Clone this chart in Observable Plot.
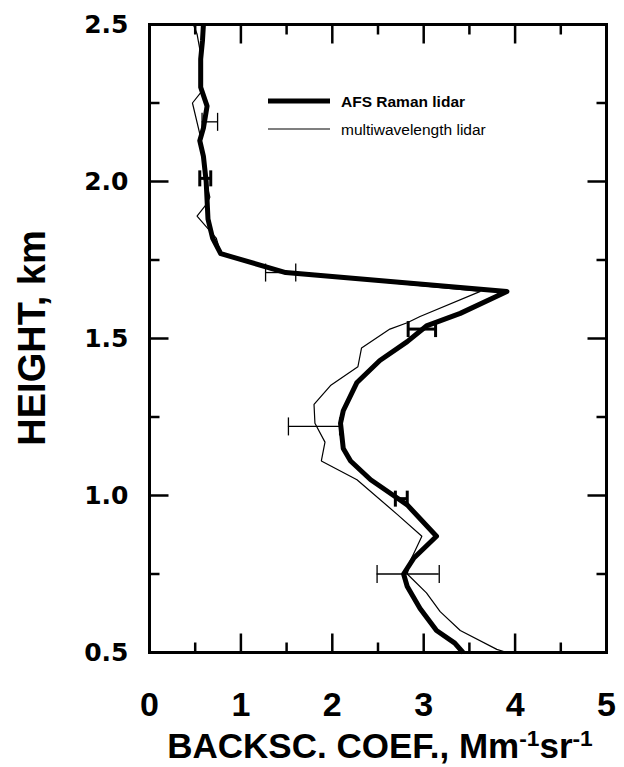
<!DOCTYPE html>
<html>
<head>
<meta charset="utf-8">
<script src="https://cdn.jsdelivr.net/npm/d3@7"></script>
<script src="https://cdn.jsdelivr.net/npm/@observablehq/plot@0.6"></script>
<style>
  html, body { margin: 0; padding: 0; background: #fff; }
  #chart svg { display: block; }
</style>
</head>
<body>
<div id="chart"></div>
<script>
// ---- data (height in km, backscatter coefficient in Mm^-1 sr^-1) ----
const afsHeight = [0.50,0.53,0.57,0.64,0.71,0.75,0.80,0.87,0.97,1.00,1.05,1.11,1.15,1.23,1.27,1.36,1.43,1.49,1.54,1.58,1.65,1.71,1.77,1.82,1.88,1.94,2.00,2.08,2.13,2.17,2.24,2.30,2.39,2.45,2.50];
const afsValue  = [3.43,3.34,3.14,2.96,2.82,2.78,2.89,3.14,2.82,2.67,2.42,2.20,2.12,2.09,2.12,2.27,2.52,2.82,3.03,3.40,3.91,1.49,0.78,0.69,0.64,0.63,0.62,0.59,0.55,0.59,0.63,0.56,0.56,0.58,0.59];

const mwHeight = [0.50,0.51,0.57,0.63,0.69,0.75,0.79,0.87,0.94,1.05,1.11,1.17,1.23,1.29,1.35,1.41,1.47,1.53,1.55,1.57,1.65,1.71,1.77,1.82,1.89,1.93,1.95,2.00,2.08,2.14,2.25,2.29,2.39,2.47,2.50];
const mwValue  = [3.91,3.80,3.40,3.18,3.03,2.82,2.85,2.98,2.71,2.27,1.88,1.92,1.81,1.80,1.98,2.28,2.32,2.63,2.82,2.96,3.62,1.49,0.78,0.73,0.52,0.63,0.66,0.62,0.59,0.56,0.47,0.58,0.57,0.52,0.48];

const afsErrHeight = [2.01, 1.53, 0.99];
const afsErrLow    = [0.55, 2.83, 2.69];
const afsErrHigh   = [0.67, 3.13, 2.82];

const mwErrHeight = [2.19, 1.71, 1.22, 0.75];
const mwErrLow    = [0.575, 1.27, 1.52, 2.49];
const mwErrHigh   = [0.745, 1.60, 2.08, 3.17];

const xTickLabels = [0, 1, 2, 3, 4, 5];
const yTickLabels = [0.5, 1.0, 1.5, 2.0, 2.5];
const xMajor = [1, 2, 3, 4];
const xMinor = [0.5, 1.5, 2.5, 3.5, 4.5];
const yMajor = [1.0, 1.5, 2.0];
const yMinor = [0.75, 1.25, 1.75, 2.25];

const seriesNames = ["AFS Raman lidar", "multiwavelength lidar"];
const xTitle = "BACKSC. COEF., Mm-1sr-1";
const yTitle = "HEIGHT, km";

// ---- build tables ----
const afs = afsHeight.map((h, i) => ({h, v: afsValue[i]}));
const mw = mwHeight.map((h, i) => ({h, v: mwValue[i]}));
const afsErr = afsErrHeight.map((h, i) => ({h, lo: afsErrLow[i], hi: afsErrHigh[i]}));
const mwErr = mwErrHeight.map((h, i) => ({h, lo: mwErrLow[i], hi: mwErrHigh[i]}));

// pixel-space tick / cap symbols
const seg = (dx, dy) => ({draw(ctx) { ctx.moveTo(0, 0); ctx.lineTo(dx, dy); }});
const cap = (half) => ({draw(ctx) { ctx.moveTo(0, -half); ctx.lineTo(0, half); }});

const SANS = "Liberation Sans, Arial, Helvetica, sans-serif";
const MAJ = 19, MIN = 10;

const tickMarks = (vals, axis, anchor, sym) => Plot.dot(vals, {
  [axis]: d => d, frameAnchor: anchor, symbol: sym,
  stroke: "#000", fill: "none", strokeWidth: 2.5
});

const chart = Plot.plot({
  width: 624,
  height: 767,
  marginTop: 24,
  marginBottom: 115,
  marginLeft: 149,
  marginRight: 18,
  x: {domain: [0, 5], axis: null},
  y: {domain: [0.5, 2.5], axis: null},
  style: {fontFamily: SANS, background: "#fff"},
  marks: [
    // error bars
    Plot.ruleY(mwErr, {y: "h", x1: "lo", x2: "hi", stroke: "#000", strokeWidth: 1.3}),
    Plot.dot(mwErr, {x: "lo", y: "h", symbol: cap(9), stroke: "#000", fill: "none", strokeWidth: 1.3}),
    Plot.dot(mwErr, {x: "hi", y: "h", symbol: cap(9), stroke: "#000", fill: "none", strokeWidth: 1.3}),
    Plot.ruleY(afsErr, {y: "h", x1: "lo", x2: "hi", stroke: "#000", strokeWidth: 3}),
    Plot.dot(afsErr, {x: "lo", y: "h", symbol: cap(8), stroke: "#000", fill: "none", strokeWidth: 3}),
    Plot.dot(afsErr, {x: "hi", y: "h", symbol: cap(8), stroke: "#000", fill: "none", strokeWidth: 3}),
    // profiles
    Plot.line(mw, {x: "v", y: "h", stroke: "#000", strokeWidth: 1.2, strokeLinejoin: "miter"}),
    Plot.line(afs, {x: "v", y: "h", stroke: "#000", strokeWidth: 5, strokeLinejoin: "round", strokeLinecap: "butt"}),
    // frame
    Plot.frame({stroke: "#000", strokeWidth: 3}),
    // inward ticks
    tickMarks(xMajor, "x", "bottom", seg(0, -MAJ)),
    tickMarks(xMinor, "x", "bottom", seg(0, -MIN)),
    tickMarks(xMajor, "x", "top", seg(0, MAJ)),
    tickMarks(xMinor, "x", "top", seg(0, MIN)),
    tickMarks(yMajor, "y", "left", seg(MAJ, 0)),
    tickMarks(yMinor, "y", "left", seg(MIN, 0)),
    tickMarks(yMajor, "y", "right", seg(-MAJ, 0)),
    tickMarks(yMinor, "y", "right", seg(-MIN, 0)),
    // tick labels
    Plot.text(xTickLabels, {x: d => d, frameAnchor: "bottom", lineAnchor: "middle", dy: 53, text: d => String(d),
      fontSize: 34, fontWeight: "bold", fontFamily: SANS, fill: "#000"}),
    Plot.text(yTickLabels, {y: d => d, frameAnchor: "left", lineAnchor: "middle", dx: -21, textAnchor: "end", text: d => d.toFixed(1),
      fontSize: 25, fontWeight: "bold", fontFamily: "DejaVu Sans", fill: "#000"}),
    // x axis title
    Plot.text([xTitle], {frameAnchor: "bottom", lineAnchor: "middle", dy: 94, dx: 2, text: d => d,
      fontSize: 35, fontWeight: "bold", fontFamily: SANS, fill: "#000"})
  ]
});

document.getElementById("chart").appendChild(chart);

const svg = d3.select(chart);

// superscripts in x title
svg.selectAll("text").filter(function() { return this.textContent === xTitle; })
  .each(function() {
    const t = d3.select(this);
    t.text(null);
    t.append("tspan").text("BACKSC. COEF., Mm");
    t.append("tspan").attr("dy", "-0.5em").attr("font-size", "0.65em").text("-1");
    t.append("tspan").attr("dy", "0.325em").text("sr");
    t.append("tspan").attr("dy", "-0.5em").attr("font-size", "0.65em").text("-1");
  });

// y axis title (rotated), centred on the plot frame
svg.append("text")
  .attr("transform", "translate(32,338) rotate(-90)")
  .attr("text-anchor", "middle")
  .attr("dy", "0.35em")
  .attr("font-family", SANS)
  .attr("font-size", 38)
  .attr("font-weight", "bold")
  .attr("fill", "#000")
  .text(yTitle);

// legend (inside plot area, upper right)
const leg = svg.append("g").attr("font-family", SANS).attr("fill", "#000").attr("text-anchor", "start");
leg.append("line").attr("x1", 268).attr("x2", 330).attr("y1", 101).attr("y2", 101)
  .attr("stroke", "#000").attr("stroke-width", 5);
leg.append("line").attr("x1", 268).attr("x2", 330).attr("y1", 129).attr("y2", 129)
  .attr("stroke", "#000").attr("stroke-width", 1.2);
leg.append("text").attr("x", 341).attr("y", 107).attr("font-size", 15.5).attr("font-weight", "bold").text(seriesNames[0]);
leg.append("text").attr("x", 341).attr("y", 135).attr("font-size", 15.5).text(seriesNames[1]);
</script>
</body>
</html>
